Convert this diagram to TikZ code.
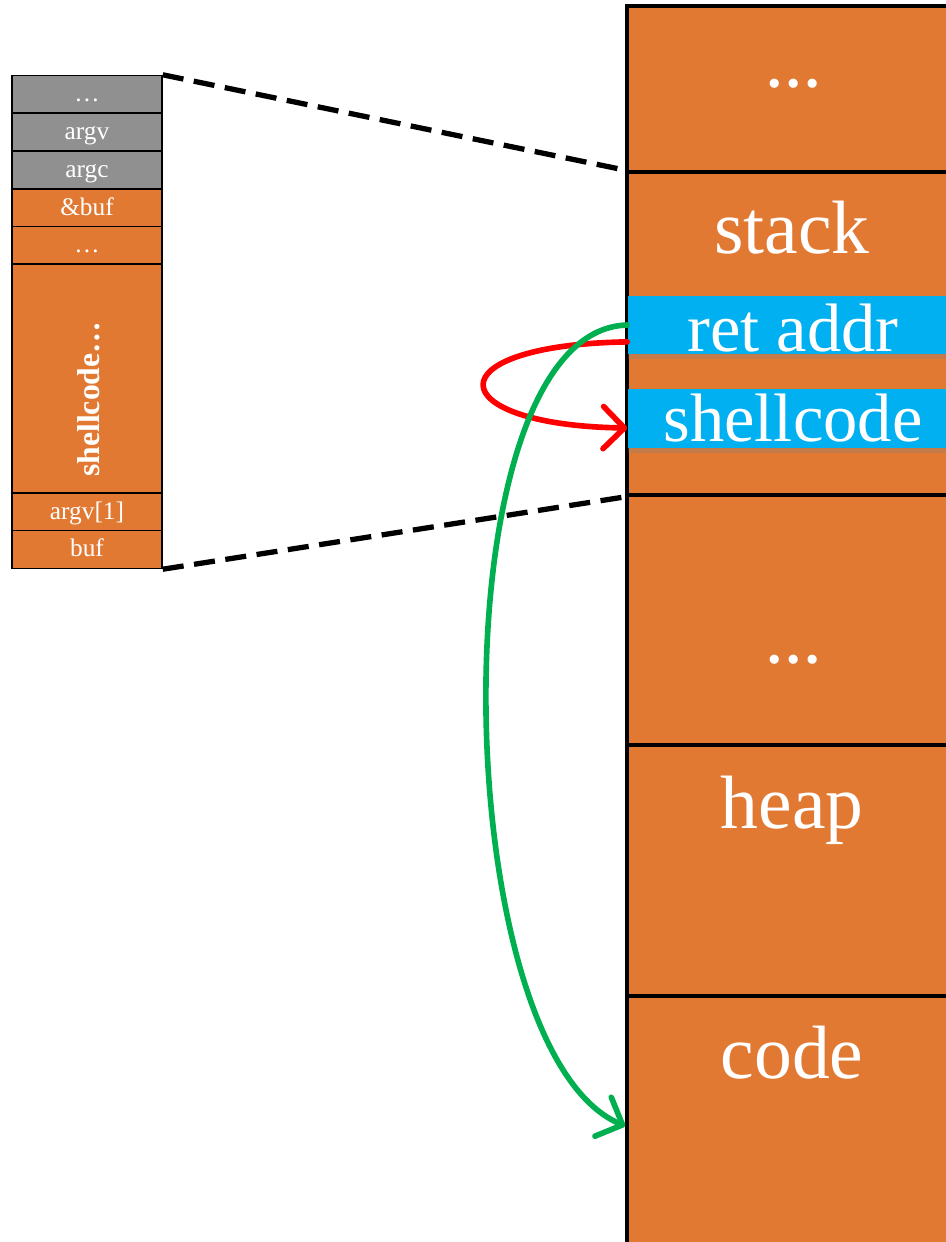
\documentclass[tikz,border=0pt]{standalone}
\usepackage{fontspec}
\setmainfont{Liberation Serif}
\usetikzlibrary{arrows.meta,shadows}
\definecolor{memorange}{RGB}{226,121,51}
\definecolor{memgray}{RGB}{143,144,143}
\definecolor{membar}{RGB}{0,176,240}
\definecolor{jumpgreen}{RGB}{0,176,80}
\begin{document}
\begin{tikzpicture}[x=0.01cm,y=-0.01cm,
  seg/.style={draw=black,line width=1pt,fill=memorange,minimum width=3.3cm,inner sep=0pt},
  bar/.style={fill=membar,minimum width=3.3cm,inner sep=0pt,drop shadow={shadow xshift=0pt,shadow yshift=-1.5pt,opacity=0.3}},
  big/.style={text=white,font=\fontsize{21.5}{24}\selectfont,anchor=base},
  mid/.style={text=white,font=\fontsize{19.5}{22}\selectfont,anchor=base},
  cell/.style={draw=black,line width=0.4pt,fill=memorange,text=white,minimum width=1.5cm,minimum height=0.38cm,inner sep=0pt,
    text height=5pt,text depth=1pt,font=\fontsize{7.2}{8}\selectfont},
  fan/.style={line width=1.5pt,dash pattern=on 6pt off 3pt},
  jump/.style={line width=1.6pt,line cap=round,-{Straight Barb[length=6pt,width=12pt,round]}}]
\useasboundingbox (0,0) rectangle (946,1242);
\clip (0,0) rectangle (946,1242);
% memory layout
\node[seg,minimum height=1.66cm] (top) at (792,89) {};
\node[seg,minimum height=3.23cm] (stack) at (792,333.5) {};
\node[seg,minimum height=2.5cm] (middle) at (792,620) {};
\node[seg,minimum height=2.51cm] (heap) at (792,870.5) {};
\node[seg,minimum height=2.6cm] (code) at (792,1126) {};
\node[bar,minimum height=0.58cm] (ret) at (793,325) {};
\node[bar,minimum height=0.59cm] (sc) at (793,418.5) {};
\node[big,font=\bfseries\fontsize{16}{18}\selectfont] (topdots) at (794,87) {\ldots};
\node[big] (stacktxt) at (792,253) {stack};
\node[mid] (rettxt) at (793,351) {ret addr};
\node[mid] (sctxt) at (793,441) {shellcode};
\node[big,font=\bfseries\fontsize{16}{18}\selectfont] (middots) at (794,663) {\ldots};
\node[big] (heaptxt) at (792,828) {heap};
\node[big] (codetxt) at (792,1078) {code};
% stack frame
\foreach \name/\y/\c/\txt in {ldots/94.5/memgray/\ldots, argv/132/memgray/argv, argc/170/memgray/argc,
    abuf/208/memorange/\&buf, lmid/245.5/memorange/\ldots, argvone/512/memorange/argv[1], buf/549.5/memorange/buf}
  \node[cell,fill=\c] (\name) at (87,\y) {\txt};
\node[cell,minimum height=2.29cm] (shell) at (87,378.5) {};
\node[rotate=90,anchor=west,text=white,font=\bfseries\fontsize{9}{10}\selectfont] (shelltxt) at (89,489) {shellcode…};
\draw[fan] (ldots.north east) -- (stack.north west);
\draw[fan] (buf.south east) -- (stack.south west);
% jumps
\draw[jump,red] ([yshift=-4.8pt]ret.west) .. controls (432,345) and (440,425) .. ([yshift=-2.7pt]sc.west);
\draw[jump,jumpgreen] (ret.west) .. controls (435,330) and (445,1050) .. (code.west);
\end{tikzpicture}
\end{document}
